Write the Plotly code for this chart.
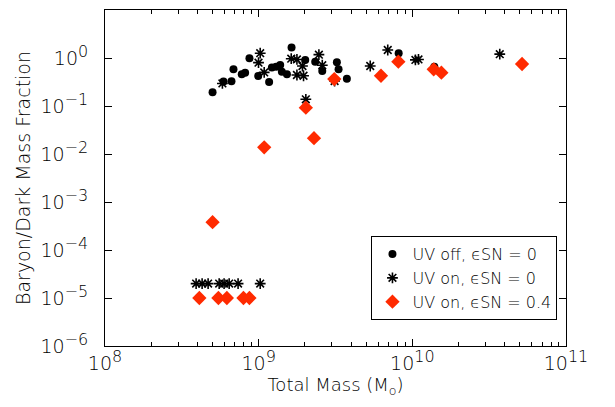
import plotly.graph_objects as go

# UV off, eSN = 0 (black circles)
uvoff_logm = [8.70, 8.771, 8.823, 8.836, 8.89, 8.912, 8.94, 8.997, 9.068, 9.086, 9.114, 9.14,
              9.151, 9.184, 9.214, 9.303, 9.368, 9.509, 9.52, 9.414, 9.574, 9.911, 10.143]
uvoff_logf = [-0.715, -0.49, -0.486, -0.236, -0.34, -0.306, -0.007, -0.375, -0.5, -0.20, -0.18, -0.146,
              -0.285, -0.34, 0.22, -0.04, -0.077, -0.09, -0.236, -0.27, -0.43, 0.10, -0.18]

# UV on, eSN = 0 (asterisks)
uvon_logm = [8.764, 9.01, 8.999, 9.036, 9.212, 9.249, 9.285, 9.249, 9.292, 9.392, 9.414, 9.307,
             9.494, 9.726, 9.84, 10.02, 10.04, 10.569,
             8.593, 8.632, 8.671, 8.743, 8.775, 8.808, 8.866, 9.01]
uvon_logf = [-0.53, 0.10, -0.097, -0.30, -0.015, -0.03, -0.167, -0.354, -0.37, 0.07, -0.15, -0.86,
             -0.48, -0.167, 0.167, -0.04, -0.03, 0.08,
             -4.70, -4.70, -4.70, -4.70, -4.70, -4.70, -4.70, -4.70]

# UV on, eSN = 0.4 (red diamonds)
sn_logm = [8.614, 8.738, 8.793, 8.901, 8.94, 8.70, 9.036, 9.36, 9.307, 9.492, 9.796, 9.909,
           10.139, 10.189, 10.714]
sn_logf = [-5.0, -5.0, -5.0, -5.0, -5.0, -3.42, -1.86, -1.67, -1.035, -0.44, -0.37, -0.077,
           -0.236, -0.306, -0.125]

xtick_exp = [8, 9, 10, 11]
ytick_exp = [-6, -5, -4, -3, -2, -1, 0, 1]


def lab(e):
    s = str(e).replace("-", "−")
    return "10<sup><span style='font-size:16px'>" + s + "</span></sup>"


p = lambda v: [10 ** a for a in v]

fig = go.Figure()
fig.add_trace(go.Scatter(x=p(uvoff_logm), y=p(uvoff_logf), mode="markers",
                         name="UV off, ϵSN = 0",
                         marker=dict(symbol="circle", size=8, color="black")))
fig.add_trace(go.Scatter(x=p(uvon_logm), y=p(uvon_logf), mode="markers",
                         name="UV on, ϵSN = 0",
                         marker=dict(symbol="asterisk-open", size=9, color="black",
                                     line=dict(color="black", width=1.6))))
fig.add_trace(go.Scatter(x=p(sn_logm), y=p(sn_logf), mode="markers",
                         name="UV on, ϵSN = 0.4",
                         marker=dict(symbol="diamond", size=11, color="#ff2a00")))

font = "DejaVu Sans, sans-serif"
fig.update_layout(
    width=615, height=407,
    margin=dict(l=105, r=49, t=10, b=61),
    paper_bgcolor="white", plot_bgcolor="white",
    font=dict(family=font, size=16, color="black", weight=300),
    showlegend=True,
    legend=dict(x=0.578, y=0.202, xanchor="left", yanchor="middle",
                bordercolor="black", borderwidth=1, bgcolor="white",
                font=dict(size=16, weight=300, color="black"), itemwidth=30, tracegroupgap=0),
)
fig.update_xaxes(type="log", range=[8, 11], showgrid=False, zeroline=False,
                 showline=True, linecolor="black", linewidth=1, mirror="allticks",
                 ticks="inside", ticklen=7, tickcolor="black",
                 tickvals=[10 ** e for e in xtick_exp], ticktext=[lab(e) for e in xtick_exp],
                 tickfont=dict(size=19, weight=300, color="black"), ticklabelstandoff=0,
                 minor=dict(ticks="inside", ticklen=4, tickcolor="black",
                            dtick="D1", showgrid=False),
                 title=dict(text="Total Mass (M<sub>o</sub>)",
                            font=dict(size=18, weight=300, color="black"), standoff=2))
fig.update_yaxes(type="log", range=[-6, 1], showgrid=False, zeroline=False,
                 showline=True, linecolor="black", linewidth=1, mirror="allticks",
                 ticks="inside", ticklen=7, tickcolor="black",
                 tickvals=[10 ** e for e in ytick_exp], ticktext=[lab(e) for e in ytick_exp],
                 tickfont=dict(size=19, weight=300, color="black"), ticklabelstandoff=12,
                 title=dict(text="Baryon/Dark Mass Fraction",
                            font=dict(size=19, weight=300, color="black"), standoff=4))

fig.write_html("out.html")
